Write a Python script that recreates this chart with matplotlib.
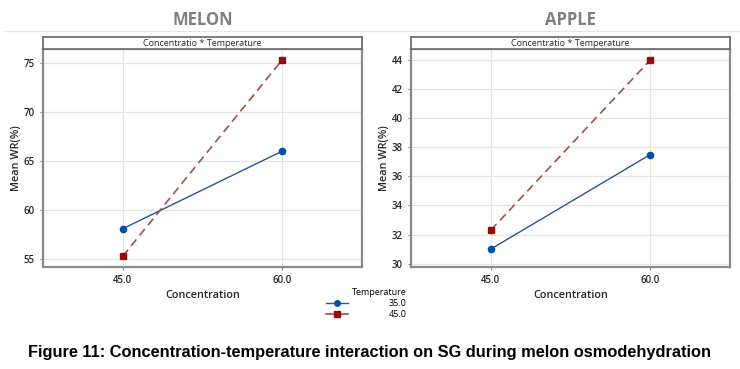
import matplotlib.pyplot as plt
from matplotlib.lines import Line2D

# Data
concentration = [45.0, 60.0]
temperatures = ["35.0", "45.0"]
melon_35 = [58.1, 66.0]
melon_45 = [55.3, 75.3]
apple_35 = [31.0, 37.5]
apple_45 = [32.3, 44.0]

panels = {
    "MELON": {"t35": melon_35, "t45": melon_45, "yticks": [55, 60, 65, 70, 75], "ylim": (54.2, 76.4)},
    "APPLE": {"t35": apple_35, "t45": apple_45, "yticks": [30, 32, 34, 36, 38, 40, 42, 44], "ylim": (29.77, 44.76)},
}

blue = "#0050a8"
blue_line = "#2a52a0"
red = "#9a0a0a"
red_line = "#a05050"
frame = "#8a8a8a"
txt = "#262626"

plt.rcParams["font.family"] = ["Open Sans", "DejaVu Sans"]

fig = plt.figure(figsize=(7.4, 3.69), dpi=100)

W, H = 740, 369
lefts = [43, 411]
width = 319
top_strip, strip_bottom, bottom = 37, 49, 267

for (name, p), left in zip(panels.items(), lefts):
    ax = fig.add_axes([left / W, 1 - bottom / H, width / W, (bottom - strip_bottom) / H])
    ax.plot(concentration, p["t35"], color=blue_line, lw=1.0, marker="o", ms=4.5,
            mfc=blue, mec=blue, zorder=3)
    ax.plot(concentration, p["t45"], color=red_line, lw=1.2, ls=(0, (5, 3)), marker="s", ms=4.5,
            mfc=red, mec=red, zorder=3)
    ax.set_xlim(37.5, 67.5)
    ax.set_ylim(*p["ylim"])
    ax.set_xticks(concentration)
    ax.set_xticklabels([f"{c:.1f}" for c in concentration])
    ax.set_yticks(p["yticks"])
    ax.grid(True, color="#e3e3e3", lw=0.9)
    ax.set_axisbelow(True)
    for s in ax.spines.values():
        s.set_color(frame)
        s.set_linewidth(1.6)
    ax.tick_params(labelsize=7, colors=frame, labelcolor=txt, length=2.5, width=0.8)
    for lab in ax.get_xticklabels() + ax.get_yticklabels():
        lab.set_fontweight("semibold")
    ax.set_xlabel("Concentration", fontsize=7.8, color=txt, fontweight="semibold", labelpad=3)
    ax.set_ylabel("Mean WR(%)", fontsize=7.8, color=txt, fontweight="semibold", labelpad=1)

    # strip on top of each panel
    sax = fig.add_axes([left / W, 1 - strip_bottom / H, width / W, (strip_bottom - top_strip) / H])
    sax.set_xticks([])
    sax.set_yticks([])
    for s in sax.spines.values():
        s.set_color("#707070")
        s.set_linewidth(1.3)
    sax.text(0.5, 0.45, "Concentratio * Temperature", ha="center", va="center",
             fontsize=6.5, color=txt, transform=sax.transAxes)

    fig.text((left + width / 2) / W, 1 - 20 / H, name, ha="center", va="center",
             fontsize=12, fontweight="bold", color="#7f7f7f")

# light separator under the titles
fig.add_artist(Line2D([5 / W, 1.0], [1 - 31 / H, 1 - 31 / H], color="#e6e6e6", lw=1.0))

handles = [
    Line2D([], [], color=blue_line, lw=1.0, marker="o", ms=4, mfc=blue, mec=blue),
    Line2D([], [], color=red_line, lw=1.2, marker="s", ms=4, mfc=red, mec=red),
]
fig.legend(handles, temperatures, title="Temperature", loc="upper left",
           bbox_to_anchor=(320 / W, 1 - 282 / H), frameon=False, fontsize=6.5,
           title_fontsize=6.5, handlelength=2.4, handletextpad=4.5, labelspacing=0.2,
           alignment="right", borderpad=0.2)

fig.text(369 / W, 1 - 353 / H,
         "Figure 11: Concentration-temperature interaction on SG during melon osmodehydration",
         ha="center", va="center", fontsize=11.8, fontweight="bold",
         family="Liberation Sans", color="black")

fig.savefig("out.png", dpi=100)
